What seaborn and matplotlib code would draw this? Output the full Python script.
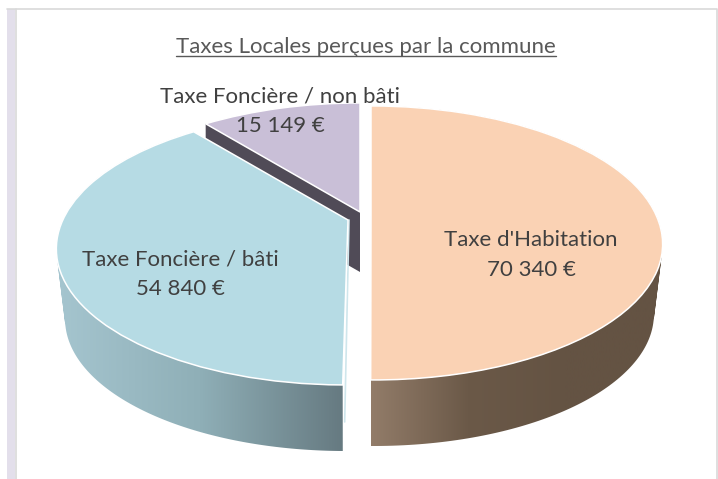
import numpy as np
import matplotlib
matplotlib.use("Agg")
import matplotlib.pyplot as plt
import seaborn as sns
from matplotlib.colors import LinearSegmentedColormap
from matplotlib.patches import PathPatch
from matplotlib.path import Path
from matplotlib.transforms import Transform

# Data
labels = ["Taxe d'Habitation", "Taxe Foncière / bâti", "Taxe Foncière / non bâti"]
values = [70340, 54840, 15149]
title = "Taxes Locales perçues par la commune"

# Styles
top_colors = ["#fad2b4", "#b6dbe4", "#c9bfd7"]
wall_colors = [["#927c69", "#6b5948", "#645343", "#645343"],
               ["#a5c5cf", "#8fafb7", "#667a81"]]
wall_span = [(371, 662), (57, 343)]
centres = [(371, 215), (348, 220), (360, 212)]
leans = [-2.5, 2.5, 0]
label_pos = [(531, 255), (180.5, 274.5), (280, 111)]

# Tilted disc, sizes in pixels
A, B, K = 285, 131.3, 0.204
SHRINK, DROP = 0.97, 71


def project(u, v, centre, lean, s=1, d=0):
    w = 1 + K * v
    return (centre[0] + s * A * u / w + lean * np.minimum(v, 0),
            centre[1] - s * B * v / w + d)


class Tilt(Transform):
    input_dims = output_dims = 2
    is_separable = False
    has_inverse = False

    def __init__(self, centre, lean):
        super().__init__()
        self.centre = centre
        self.lean = lean

    def transform_non_affine(self, xy):
        xy = np.asarray(xy, dtype=float)
        return np.column_stack(project(xy[:, 0], xy[:, 1], self.centre, self.lean))


def rim(i, theta, low=False):
    t = np.radians(theta)
    if low:
        return project(np.cos(t), np.sin(t), centres[i], leans[i], SHRINK, DROP)
    return project(np.cos(t), np.sin(t), centres[i], leans[i])


def wall_outline(i):
    # union of small quads, all wound the same way
    angles = np.linspace(wedges[i].theta1, wedges[i].theta2, 200)
    xt, yt = rim(i, angles)
    xb, yb = rim(i, angles, low=True)
    parts = []
    for k in range(len(angles) - 1):
        quad = np.array([[xt[k], yt[k]], [xt[k + 1], yt[k + 1]], [xb[k + 1], yb[k + 1]], [xb[k], yb[k]]])
        x, y = quad[:, 0], quad[:, 1]
        if np.dot(x, np.roll(y, -1)) - np.dot(y, np.roll(x, -1)) < 0:
            quad = quad[::-1]
        parts.append(Path(np.vstack([quad, quad[0]]), closed=True))
    return Path.make_compound_path(*parts)


sns.set_theme(style="white")
plt.rcParams["font.family"] = ["Lato", "DejaVu Sans"]

fig = plt.figure(figsize=(7.18, 4.79), dpi=100)
ax = fig.add_axes([0, 0, 1, 1])

wedges, _ = ax.pie(values, colors=sns.color_palette(top_colors), startangle=90, counterclock=False,
                   wedgeprops={"edgecolor": "white", "linewidth": 1.1})

for i, wedge in enumerate(wedges):
    wedge.set_transform(Tilt(centres[i], leans[i]) + ax.transData)
    wedge.set_zorder(5 if i < 2 else 3)

# outer walls, a left to right gradient clipped to the wall outline
for i in range(2):
    cmap = LinearSegmentedColormap.from_list("wall", wall_colors[i])
    outline = PathPatch(wall_outline(i), transform=ax.transData, fc="none", lw=0)
    lo, hi = wall_span[i]
    im = ax.imshow(np.linspace(0, 1, 256)[None, :], cmap=cmap, extent=(lo, hi, 479, 0),
                   aspect="auto", zorder=4, interpolation="bilinear")
    im.set_clip_path(outline)

ax.set_aspect("auto")
ax.set_xlim(0, 718)
ax.set_ylim(479, 0)

# dark cut face of the small slice
cx, cy = centres[2]
tx, ty = rim(2, wedges[2].theta2)
ax.fill([tx, cx, cx, tx], [ty, cy, cy + 60, ty + 60], color="#504b57", lw=0, zorder=2)

# pale cut face of the blue slice
bx, by = rim(1, wedges[1].theta2)
ax.plot([centres[1][0] + 1, bx + 2], [centres[1][1], by + 37], color="#cfe6ec", lw=1.2, zorder=4)

for i, (x, y) in enumerate(label_pos):
    amount = f"{values[i]:,}".replace(",", " ") + " €"
    ax.text(x, y, labels[i] + "\n" + amount, ha="center", va="center", fontsize=16,
            color="#404040", linespacing=1.6, zorder=8)

t = ax.text(366, 47, title, ha="center", va="center", fontsize=16, color="#595959", zorder=8)
fig.canvas.draw()
box = t.get_window_extent().transformed(ax.transData.inverted())
ax.plot([box.x0, box.x1], [55.5, 55.5], color="#595959", lw=1.0, zorder=8)

# chart frame and page band
ax.axvspan(7, 15, ymin=0, ymax=1 - 9 / 479, color="#e3dfeb", lw=0, zorder=1)
ax.plot([15.5, 15.5], [9, 479], color="#d9d9d9", lw=1.2, zorder=1)
ax.plot([7, 716.5, 716.5], [8.5, 8.5, 479], color="#d9d9d9", lw=1.2, zorder=1)

ax.set_axis_off()
fig.savefig("out.png", dpi=100)
